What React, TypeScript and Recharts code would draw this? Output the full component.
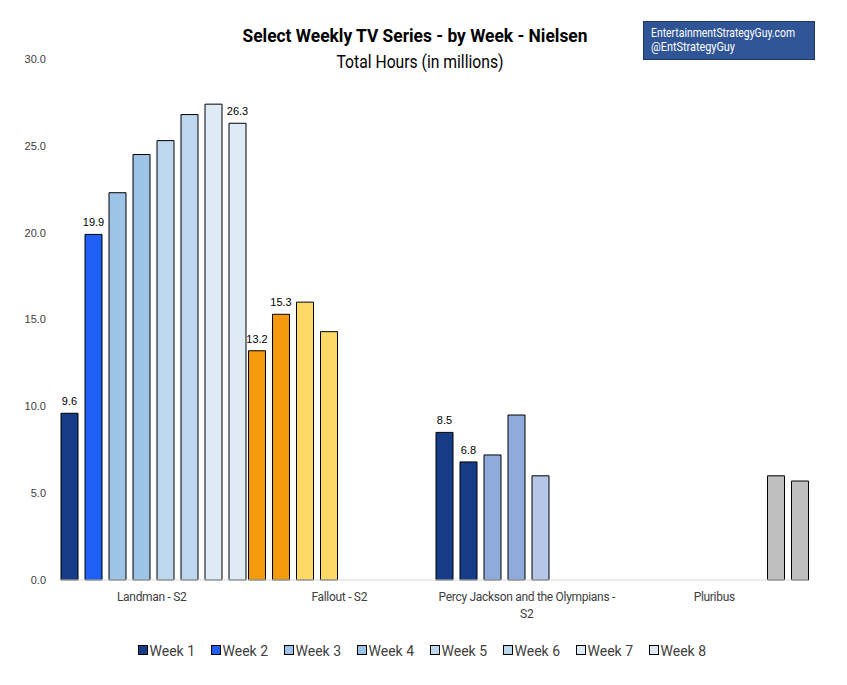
import { BarChart, Bar, XAxis, YAxis, Cell, LabelList } from "recharts";

const categories = ["Landman - S2", "Fallout - S2", "Percy Jackson and the Olympians - S2", "Pluribus"];
const weeks = ["Week 1", "Week 2", "Week 3", "Week 4", "Week 5", "Week 6", "Week 7", "Week 8"];

// values per week, one entry per show (null = no bar)
const week1 = [9.6, 13.2, 8.5, null];
const week2 = [19.9, 15.3, 6.8, null];
const week3 = [22.3, 16.0, 7.2, null];
const week4 = [24.5, 14.3, 9.5, null];
const week5 = [25.3, null, 6.0, null];
const week6 = [26.8, null, null, null];
const week7 = [27.4, null, null, 6.0];
const week8 = [26.3, null, null, 5.7];
const weekValues = [week1, week2, week3, week4, week5, week6, week7, week8];

const yTicks = [0, 5, 10, 15, 20, 25, 30];

// which bars get a value label: [show index, week index]
const labelled = [[0, 0], [0, 1], [0, 7], [1, 0], [1, 1], [2, 0], [2, 1], [3, 7]];

const landmanColors = ["#173c87", "#1f5ff5", "#9dc3e6", "#9dc3e6", "#bdd7ee", "#bdd7ee", "#deebf7", "#deebf7"];
const falloutColors = ["#f59a0c", "#f59a0c", "#ffd966", "#ffd966", "#ffd966", "#ffd966", "#ffd966", "#ffd966"];
const percyColors = ["#173c87", "#173c87", "#8faadc", "#8faadc", "#b4c7e7", "#b4c7e7", "#b4c7e7", "#b4c7e7"];
const pluribusColors = ["#bfbfbf", "#bfbfbf", "#bfbfbf", "#bfbfbf", "#bfbfbf", "#bfbfbf", "#bfbfbf", "#bfbfbf"];
const showColors = [landmanColors, falloutColors, percyColors, pluribusColors];

const data = categories.map((name, i) => {
  const row: Record<string, any> = { name };
  weekValues.forEach((vals, w) => {
    row["w" + (w + 1)] = vals[i];
  });
  return row;
});

const sans = "Roboto, 'Liberation Sans', sans-serif";
const arial = "'Liberation Sans', Arial, sans-serif";

function wrap(text: string, max: number) {
  const words = text.split(" ");
  const lines: string[] = [];
  let cur = "";
  words.forEach((w) => {
    const next = cur ? cur + " " + w : w;
    if (next.length > max && cur) {
      lines.push(cur);
      cur = w;
    } else cur = next;
  });
  if (cur) lines.push(cur);
  return lines;
}

function CategoryTick(props: any) {
  const { x, y, payload } = props;
  const lines = wrap(payload.value, 33);
  return (
    <text x={x} y={y + 13} textAnchor="middle" fontFamily={sans} fontSize={12} letterSpacing={-0.3} fill="#404040">
      {lines.map((l, i) => (
        <tspan key={i} x={x} dy={i === 0 ? 0 : 17}>
          {l}
        </tspan>
      ))}
    </text>
  );
}

function Overlay() {
  return (
    <svg
      width={847}
      height={685}
      style={{ position: "absolute", left: 0, top: 0, pointerEvents: "none" }}
    >
      <text x={415} y={42} textAnchor="middle" fontFamily={sans} fontWeight="bold" fontSize={19}
        textLength={345} lengthAdjust="spacingAndGlyphs" fill="#000">
        Select Weekly TV Series - by Week - Nielsen
      </text>
      <text x={420} y={68} textAnchor="middle" fontFamily={sans} fontSize={19}
        textLength={167} lengthAdjust="spacingAndGlyphs" fill="#000">
        Total Hours (in millions)
      </text>
      <rect x={643.5} y={21.5} width={171} height={38} fill="#2f5597" stroke="#1f3864" />
      <text x={651} y={37} fontFamily={sans} fontSize={13} textLength={144}
        lengthAdjust="spacingAndGlyphs" fill="#fff">
        EntertainmentStrategyGuy.com
      </text>
      <text x={651} y={51} fontFamily={sans} fontSize={13} textLength={84}
        lengthAdjust="spacingAndGlyphs" fill="#fff">
        @EntStrategyGuy
      </text>
      {weeks.map((w, i) => (
        <g key={w} transform={`translate(${138.5 + i * 73}, 645.5)`}>
          <rect x={0} y={0} width={9} height={9} fill={landmanColors[i]} stroke="#000" />
          <text x={11} y={10} fontFamily={sans} fontSize={14} fill="#404040">
            {w}
          </text>
        </g>
      ))}
    </svg>
  );
}

export default function App() {
  return (
    <div style={{ position: "absolute", left: 0, top: 0, width: 847, height: 685, background: "#fff" }}>
      <BarChart
        width={847}
        height={685}
        data={data}
        margin={{ top: 59, right: 39, bottom: 75, left: 0 }}
        barCategoryGap={3}
        barGap={7}
      >
        <XAxis
          dataKey="name"
          height={30}
          axisLine={{ stroke: "#d9d9d9" }}
          tickLine={false}
          interval={0}
          tick={<CategoryTick />}
        />
        <YAxis
          width={58}
          domain={[0, 30]}
          ticks={yTicks}
          axisLine={false}
          tickLine={false}
          tickMargin={6}
          tickFormatter={(v: number) => v.toFixed(1)}
          tick={{ fontSize: 11, fill: "#404040", fontFamily: arial }}
        />
        {weeks.map((w, wi) => (
          <Bar
            key={w}
            dataKey={"w" + (wi + 1)}
            name={w}
            fill={landmanColors[wi]}
            stroke="#000"
            strokeWidth={1}
            isAnimationActive={false}
          >
            {categories.map((c, ci) => (
              <Cell key={c} fill={showColors[ci][wi]} />
            ))}
            <LabelList
              dataKey={"w" + (wi + 1)}
              content={(p: any) => {
                const show = labelled.some(([ci, wk]) => wk === wi && ci === p.index);
                if (!show || p.value == null) return null;
                return (
                  <text
                    x={p.x + p.width / 2}
                    y={p.y - 8}
                    textAnchor="middle"
                    fontSize={11}
                    fill="#000"
                    fontFamily={arial}
                  >
                    {Number(p.value).toFixed(1)}
                  </text>
                );
              }}
            />
          </Bar>
        ))}
      </BarChart>
      <Overlay />
    </div>
  );
}
